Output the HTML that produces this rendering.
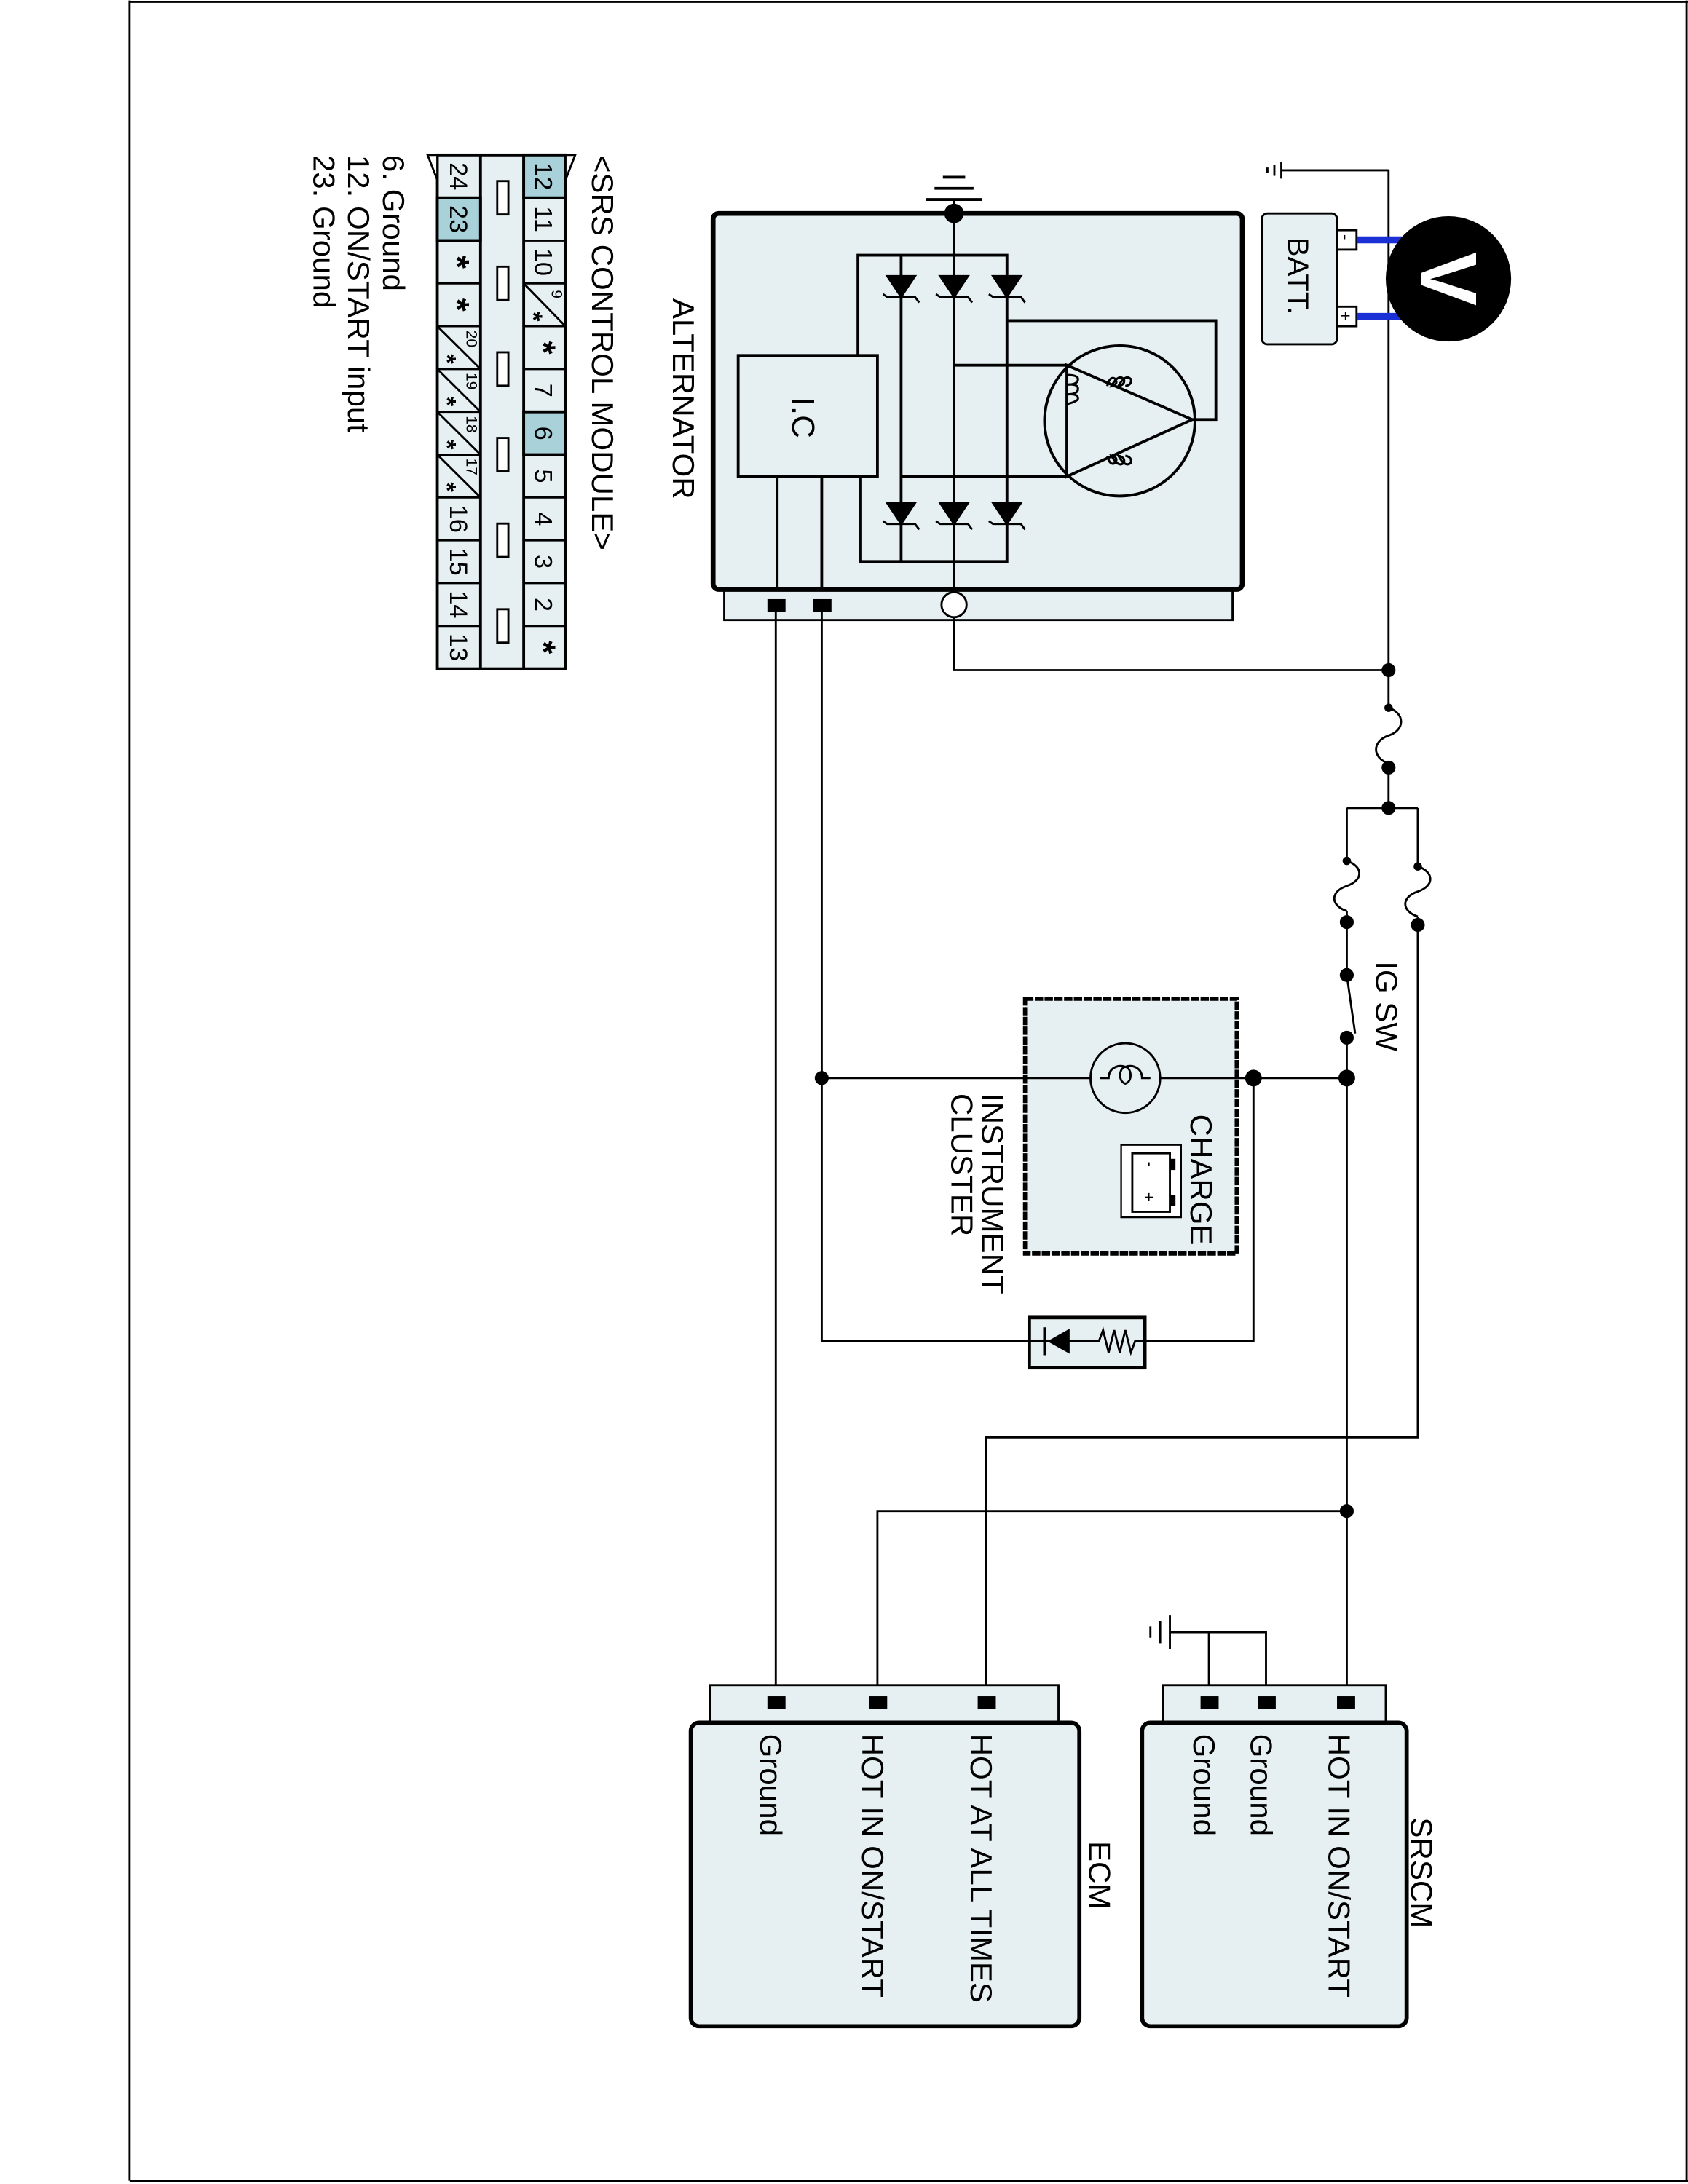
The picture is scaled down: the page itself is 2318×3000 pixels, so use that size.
<!DOCTYPE html>
<html><head><meta charset="utf-8"><style>
html,body{margin:0;padding:0;background:#fff}
svg{display:block}
text{font-family:"Liberation Sans",Arial,sans-serif;fill:#000}
</style></head><body>
<svg width="2318" height="3000" viewBox="0 0 1212 1568" xmlns="http://www.w3.org/2000/svg">
<rect x="0" y="0" width="1212" height="1568" fill="#fff"/>
<line x1="93" y1="0" x2="93" y2="1566" stroke="#000" stroke-width="1.5"/>
<line x1="93" y1="1566" x2="1212" y2="1566" stroke="#000" stroke-width="1.5"/>
<line x1="93" y1="1" x2="1212" y2="1" stroke="#000" stroke-width="1.5"/>
<line x1="1211" y1="0" x2="1211" y2="1566" stroke="#000" stroke-width="1.5"/>

<!-- SRS connector -->
<g stroke="#000" stroke-width="2">
<rect x="314" y="111" width="92" height="369" fill="#e6eff1"/>
<rect x="376" y="111" width="30" height="30.75" fill="#a9d1da"/>
<rect x="376" y="295.5" width="30" height="30.75" fill="#a9d1da"/>
<rect x="314" y="141.75" width="31" height="30.75" fill="#a9d1da"/>
<line x1="345" y1="111" x2="345" y2="480"/><line x1="376" y1="111" x2="376" y2="480"/>
</g>
<g stroke="#000" stroke-width="1.5">
<path d="M314 141.75h31M314 172.5h31M314 203.25h31M314 234h31M314 264.75h31M314 295.5h31M314 326.25h31M314 357h31M314 387.75h31M314 418.5h31M314 449.25h31"/>
<path d="M376 141.75h30M376 172.5h30M376 203.25h30M376 234h30M376 264.75h30M376 295.5h30M376 326.25h30M376 357h30M376 387.75h30M376 418.5h30M376 449.25h30"/>
<path d="M376 203.25L406 234M314 234L345 264.75M314 264.75L345 295.5M314 295.5L345 326.25M314 326.25L345 357"/>
<path d="M307 111h7v18zM413 111h-7v18z" fill="#fff"/>
</g>
<g fill="#fff" stroke="#000" stroke-width="1.5">
<rect x="357" y="129.75" width="8" height="24"/><rect x="357" y="191.25" width="8" height="24"/><rect x="357" y="252.75" width="8" height="24"/><rect x="357" y="314.25" width="8" height="24"/><rect x="357" y="375.75" width="8" height="24"/><rect x="357" y="437.25" width="8" height="24"/>
</g>
<g font-size="18" text-anchor="middle">
<text transform="translate(384,126.4) rotate(90)">12</text>
<text transform="translate(384,157.1) rotate(90)">11</text>
<text transform="translate(384,187.9) rotate(90)">10</text>
<text transform="translate(384,280.1) rotate(90)">7</text>
<text transform="translate(384,310.9) rotate(90)">6</text>
<text transform="translate(384,341.6) rotate(90)">5</text>
<text transform="translate(384,372.4) rotate(90)">4</text>
<text transform="translate(384,403.1) rotate(90)">3</text>
<text transform="translate(384,433.9) rotate(90)">2</text>
<text transform="translate(323,126.4) rotate(90)">24</text>
<text transform="translate(323,157.1) rotate(90)">23</text>
<text transform="translate(323,372.4) rotate(90)">16</text>
<text transform="translate(323,403.1) rotate(90)">15</text>
<text transform="translate(323,433.9) rotate(90)">14</text>
<text transform="translate(323,464.6) rotate(90)">13</text>
</g>
<g font-size="24" font-weight="bold" text-anchor="middle">
<text transform="translate(382,249.4) rotate(90)">*</text>
<text transform="translate(382,464.6) rotate(90)">*</text>
<text transform="translate(320,187.9) rotate(90)">*</text>
<text transform="translate(320,218.6) rotate(90)">*</text>
</g>
<g font-size="11" text-anchor="middle">
<text transform="translate(396,211) rotate(90)">9</text>
<text transform="translate(335,243) rotate(90)">20</text>
<text transform="translate(335,273.5) rotate(90)">19</text>
<text transform="translate(335,304.5) rotate(90)">18</text>
<text transform="translate(335,335) rotate(90)">17</text>
</g>
<g font-size="18" font-weight="bold" text-anchor="middle">
<text transform="translate(377,227) rotate(90)">*</text>
<text transform="translate(315,257.5) rotate(90)">*</text>
<text transform="translate(315,288) rotate(90)">*</text>
<text transform="translate(315,319) rotate(90)">*</text>
<text transform="translate(315,349.5) rotate(90)">*</text>
</g>
<g font-size="22">
<text transform="translate(425,111) rotate(90)">&lt;SRS CONTROL MODULE&gt;</text>
<text transform="translate(275,111) rotate(90)">6. Ground</text>
<text transform="translate(250,111) rotate(90)">12. ON/START input</text>
<text transform="translate(225,111) rotate(90)">23. Ground</text>
<text transform="translate(483,214) rotate(90)">ALTERNATOR</text>
</g>

<!-- Alternator -->
<rect x="520" y="420" width="365" height="25" fill="#e6eff1" stroke="#000" stroke-width="1.5"/>
<rect x="512" y="153" width="380" height="270" rx="4" fill="#e6eff1" stroke="#000" stroke-width="3.5"/>
<g stroke="#000" stroke-width="2" fill="none">
<line x1="685" y1="143" x2="685" y2="434"/>
<path d="M665 143h40M671 135h28M677 127h16"/>
<path d="M616 255V183H723V403H618V342"/>
<line x1="647" y1="183" x2="647" y2="403"/>
<path d="M723 230H873V301H856M685 262H766M647 342H766"/>
<path d="M766 262L856 301L766 342Z"/>
<circle cx="804" cy="302" r="54"/>
<rect x="530" y="255" width="100" height="87" fill="#e6eff1"/>
<line x1="558" y1="342" x2="558" y2="423"/><line x1="590" y1="342" x2="590" y2="423"/>
</g>
<g fill="none" stroke="#000" stroke-width="1.6">
<path d="M766 290 q8 -2 8 -4 q0 -4 -8 -3 q8 0 8 -4 q0 -4 -8 -3 q8 0 8 -4 q0 -3 -8 -3" />
<path d="M795 277 q2 -8 6 -5 q2 4 -3 5 q5 -9 9 -5 q1 4 -4 5 q5 -9 9 -5 q1 4 -4 5"/>
<path d="M795 327 q2 8 6 5 q2 -4 -3 -5 q5 9 9 5 q1 -4 -4 -5 q5 9 9 5 q1 -4 -4 -5"/>
</g>
<circle cx="685" cy="153" r="7" fill="#000"/>
<g fill="#000" stroke="#000" stroke-width="1.5">
<path d="M637 198h20l-10 15z"/><path d="M675 198h20l-10 15z"/><path d="M713 198h20l-10 15z"/>
<path d="M637 361h20l-10 15z"/><path d="M675 361h20l-10 15z"/><path d="M713 361h20l-10 15z"/>
<path fill="none" d="M634 211l3 2h20l3 4M672 211l3 2h20l3 4M710 211l3 2h20l3 4M634 374l3 2h20l3 4M672 374l3 2h20l3 4M710 374l3 2h20l3 4"/>
</g>
<text transform="translate(569,285) rotate(90)" font-size="23">I.C</text>
<rect x="551" y="430" width="13" height="9" fill="#000"/>
<rect x="584" y="430" width="13" height="9" fill="#000"/>
<circle cx="685" cy="434" r="9" fill="#fff" stroke="#000" stroke-width="1.5"/>

<!-- battery & voltmeter -->
<g stroke="#000" stroke-width="1.5" fill="none">
<path d="M685 443V481H997M997 122V481M997 122H920"/>
<path d="M920 116v12M915 118v8M910 120v4"/>
</g>
<rect x="906" y="153" width="54" height="94" rx="4" fill="#e6eff1" stroke="#000" stroke-width="1.5"/>
<rect x="960" y="165" width="14" height="14" fill="#fff" stroke="#000" stroke-width="1.5"/>
<rect x="960" y="220" width="14" height="14" fill="#fff" stroke="#000" stroke-width="1.5"/>
<text transform="translate(962,168) rotate(90)" font-size="12">-</text>
<text transform="translate(962,223) rotate(90)" font-size="12">+</text>
<text transform="translate(925,170) rotate(90)" font-size="21">BATT.</text>
<g stroke="#1b2fd6" stroke-width="5"><line x1="974" y1="172" x2="1010" y2="172"/><line x1="974" y1="227" x2="1010" y2="227"/></g>
<circle cx="1040" cy="200" r="45" fill="#000"/>
<text transform="translate(1020,200) rotate(90)" font-size="58" font-weight="bold" style="fill:#fff" text-anchor="middle">V</text>

<!-- fuses and switch -->
<g stroke="#000" stroke-width="1.5" fill="none">
<path d="M997 481V508M997 508c12 4 12 16 0 20c-12 4 -12 16 0 20M997 548V580M967 580H1018"/>
<path d="M967 580V618M967 618c12 4 12 14 0 18c-12 4 -12 14 0 18M967 654V700"/>
<path d="M1018 580V622M1018 622c12 4 12 14 0 18c-12 4 -12 14 0 18M1018 658V1032H708V1222"/>
<path d="M967 700L973 742M967 745V1222"/>
<path d="M590 434V963H739M822 963H900V774M590 774H967M630 1222V1085H967M557 434V1222"/>
<path d="M868 1222V1172M909 1222V1172H840M840 1160v24M833 1164v16M826 1168v8"/>
</g>
<g fill="#000">
<circle cx="997" cy="481" r="5"/><circle cx="997" cy="508" r="3"/><circle cx="997" cy="551" r="5"/><circle cx="997" cy="580" r="5"/>
<circle cx="967" cy="618" r="3"/><circle cx="967" cy="662" r="5"/><circle cx="1018" cy="622" r="3"/><circle cx="1018" cy="664" r="5"/>
<circle cx="967" cy="700" r="5"/><circle cx="967" cy="745" r="5"/><circle cx="967" cy="774" r="6"/><circle cx="900" cy="774" r="6"/><circle cx="590" cy="774" r="5"/><circle cx="967" cy="1085" r="5"/>
</g>
<text transform="translate(988,690) rotate(90)" font-size="22">IG SW</text>

<!-- instrument cluster -->
<rect x="736" y="717" width="152" height="183" fill="#e6eff1" stroke="#000" stroke-width="3" stroke-dasharray="6 1"/>
<line x1="736" y1="774" x2="888" y2="774" stroke="#000" stroke-width="1.5"/>
<circle cx="808" cy="774" r="25" fill="#e6eff1" stroke="#000" stroke-width="1.5"/>
<path d="M790 774h6c0-8 8-10 12-8c-4 0-6 10 0 12c6-2 4-12 0-12c4-2 12 0 12 8h6" fill="none" stroke="#000" stroke-width="1.5"/>
<rect x="805" y="822" width="43" height="52" fill="#fff" stroke="#000" stroke-width="1.2"/>
<rect x="813" y="828" width="27" height="42" fill="#fff" stroke="#000" stroke-width="1.5"/>
<rect x="840" y="832" width="4" height="8" fill="#000"/><rect x="840" y="858" width="4" height="8" fill="#000"/>
<text transform="translate(822,834) rotate(90)" font-size="11">-</text>
<text transform="translate(821,856) rotate(90)" font-size="12">+</text>
<text transform="translate(855,800) rotate(90)" font-size="22">CHARGE</text>
<text transform="translate(705,785) rotate(90)" font-size="22">INSTRUMENT</text>
<text transform="translate(683,785) rotate(90)" font-size="22">CLUSTER</text>
<rect x="739" y="946" width="83" height="36" fill="#e6eff1" stroke="#000" stroke-width="2.5"/>
<path d="M739 963h50l3-8l4 16l4-16l4 16l4-16l4 16l3-8h7" fill="none" stroke="#000" stroke-width="1.5"/>
<path d="M768 954v18l-16-9z" fill="#000"/><line x1="750" y1="953" x2="750" y2="973" stroke="#000" stroke-width="2"/>

<!-- SRSCM -->
<rect x="835" y="1210" width="160" height="28" fill="#e6eff1" stroke="#000" stroke-width="1.5"/>
<rect x="820" y="1237" width="190" height="218" rx="6" fill="#e6eff1" stroke="#000" stroke-width="3"/>
<rect x="862" y="1218" width="13" height="9" fill="#000"/><rect x="903" y="1218" width="13" height="9" fill="#000"/><rect x="960" y="1218" width="13" height="9" fill="#000"/>
<g font-size="22">
<text transform="translate(954,1245) rotate(90)">HOT IN ON/START</text>
<text transform="translate(898,1245) rotate(90)">Ground</text>
<text transform="translate(857,1245) rotate(90)">Ground</text>
<text transform="translate(1013,1305) rotate(90)">SRSCM</text>
</g>
<!-- ECM -->
<rect x="510" y="1210" width="250" height="28" fill="#e6eff1" stroke="#000" stroke-width="1.5"/>
<rect x="496" y="1237" width="279" height="218" rx="6" fill="#e6eff1" stroke="#000" stroke-width="3"/>
<rect x="551" y="1218" width="13" height="9" fill="#000"/><rect x="624" y="1218" width="13" height="9" fill="#000"/><rect x="702" y="1218" width="13" height="9" fill="#000"/>
<g font-size="22">
<text transform="translate(697,1245) rotate(90)">HOT AT ALL TIMES</text>
<text transform="translate(619,1245) rotate(90)">HOT IN ON/START</text>
<text transform="translate(546,1245) rotate(90)">Ground</text>
<text transform="translate(782,1322) rotate(90)">ECM</text>
</g>
</svg>
</body></html>
